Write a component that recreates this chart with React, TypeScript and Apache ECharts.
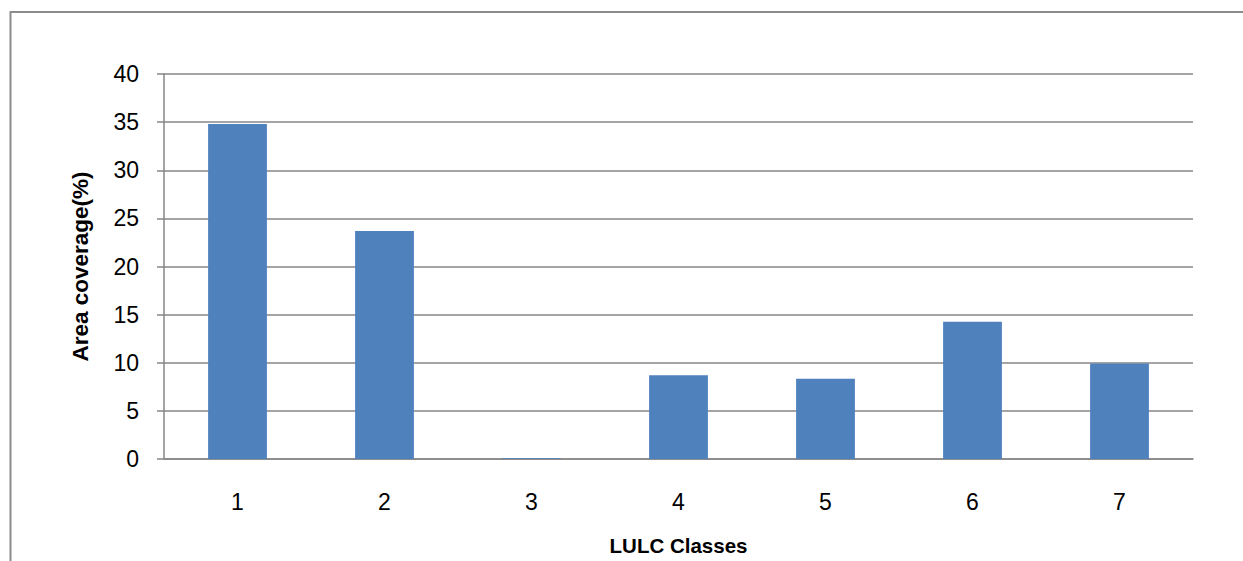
import React, { useEffect, useRef } from "react";
import * as echarts from "echarts";

// LULC classes and their share of total area (%)
const classes = ["1", "2", "3", "4", "5", "6", "7"];
const areaCoverage = [34.8, 23.7, 0.08, 8.7, 8.35, 14.25, 9.93];
const yTicks = { min: 0, max: 40, interval: 5 };

const GRID_GREY = "#878787";

export default function App() {
  const ref = useRef<HTMLDivElement>(null);

  useEffect(() => {
    if (!ref.current) return;
    const chart = echarts.init(ref.current, undefined, { renderer: "svg" });
    chart.setOption({
      animation: false,
      backgroundColor: "#ffffff",
      graphic: [
        {
          type: "rect",
          shape: { x: 10.5, y: 12, width: 1400, height: 700 },
          style: { fill: "none", stroke: "#8c8c8c", lineWidth: 2 },
          silent: true,
        },
      ],
      grid: { left: 164, right: 50, top: 74, bottom: 99.5, containLabel: false },
      xAxis: {
        type: "category",
        data: classes,
        name: "LULC Classes",
        nameLocation: "middle",
        nameGap: 76,
        nameTextStyle: {
          fontFamily: "Liberation Sans",
          fontWeight: "bold",
          fontSize: 20.5,
          color: "#000",
        },
        axisLine: { show: true, lineStyle: { color: GRID_GREY, width: 1.5 } },
        axisTick: { show: false },
        axisLabel: {
          margin: 31,
          fontFamily: "Liberation Sans",
          fontSize: 23,
          color: "#000",
        },
      },
      yAxis: {
        type: "value",
        min: yTicks.min,
        max: yTicks.max,
        interval: yTicks.interval,
        name: "Area coverage(%)",
        nameLocation: "middle",
        nameRotate: 90,
        nameGap: 72,
        nameTextStyle: {
          fontFamily: "Liberation Sans",
          fontWeight: "bold",
          fontSize: 22.5,
          color: "#000",
        },
        axisLine: { show: true, lineStyle: { color: GRID_GREY, width: 1.5 } },
        axisTick: {
          show: true,
          inside: false,
          length: 7,
          lineStyle: { color: GRID_GREY, width: 1.5 },
        },
        axisLabel: {
          margin: 25,
          fontFamily: "Liberation Sans",
          fontSize: 23,
          color: "#000",
        },
        splitLine: { show: true, lineStyle: { color: GRID_GREY, width: 1.5 } },
      },
      series: [
        {
          type: "bar",
          data: areaCoverage,
          barWidth: "40%",
          itemStyle: { color: "#4f81bd" },
        },
      ],
    });
    return () => chart.dispose();
  }, []);

  return (
    <div
      ref={ref}
      style={{ position: "fixed", left: 0, top: 0, width: 1243, height: 561 }}
    />
  );
}
